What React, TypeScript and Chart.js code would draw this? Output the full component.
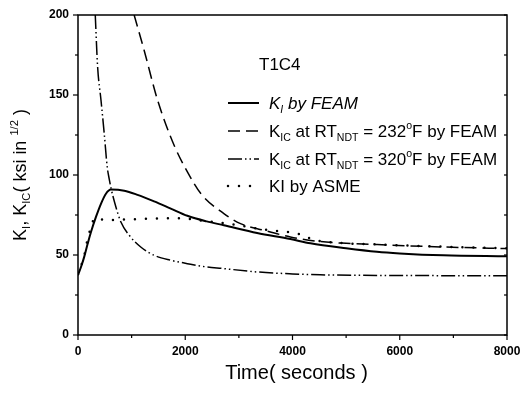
import React, { useEffect, useRef } from "react";
import { Chart, registerables } from "chart.js";

Chart.register(...registerables);

const FONT = '"Liberation Sans", Arial, sans-serif';

// K_I by FEAM (solid)
const solidT = [0, 56, 117, 180, 242, 335, 428, 521, 614, 862, 1110, 1420, 1730, 2040, 2400, 2720, 3340, 3960, 4335, 5000, 5575, 6000, 6815, 8000];
const solidK = [37.5, 42.5, 49, 57, 64.4, 73.8, 82, 88.3, 90.9, 90.2, 87.6, 83.5, 79, 74.5, 71, 68.6, 63.8, 60, 57.3, 54.2, 52, 51, 49.8, 49.2];

// K_IC at RT_NDT = 232F (dashed)
const dashT = [1047, 1233, 1482, 1800, 2040, 2290, 2720, 3030, 3470, 3960, 4460, 5000, 5575, 6815, 8000];
const dashK = [200, 178, 147, 118, 102, 88.4, 75.9, 69.6, 65.4, 61.3, 58.6, 57.3, 56.5, 55, 54];

// K_IC at RT_NDT = 320F (dash-dot-dot)
const ddT = [322, 365, 428, 489, 545, 585, 614, 707, 800, 955, 1170, 1420, 1730, 2040, 2300, 2720, 3340, 4000, 4520, 6000, 8000];
const ddK = [200, 168, 147, 126, 105, 97, 92, 80, 70.6, 62.3, 55, 49.8, 46.7, 44.6, 43, 41.5, 39.4, 38.2, 37.6, 37.2, 37];

// KI by ASME (dotted)
const asmeT = [0, 117, 167, 223, 316, 540, 1000, 1500, 1885, 2350, 2785, 3000, 3470, 3900, 4118, 4400, 5000, 5575, 6815, 8000];
const asmeK = [38, 49.8, 58.1, 65.4, 73, 71.8, 72.3, 72.8, 73, 71.3, 69.6, 68.6, 65.9, 64.4, 63.2, 59.5, 57.3, 56.6, 55.2, 54.2];

const xMajor = [0, 2000, 4000, 6000, 8000];
const yMajor = [0, 50, 100, 150, 200];

const DASH = [12, 6];
const DASHDOT = [14, 3, 1.5, 3, 1.5, 3];
const DOT = [0, 11];

type Seg = [string, "n" | "b" | "p"];

function rich(ctx: CanvasRenderingContext2D, segs: Seg[], x: number, y: number, size: number, align: "left" | "center", style = "") {
  const small = size * 0.62;
  let w = 0;
  for (const [t, m] of segs) {
    ctx.font = `${style}${m === "n" ? size : small}px ${FONT}`;
    w += ctx.measureText(t).width;
  }
  let cx = align === "center" ? x - w / 2 : x;
  ctx.textAlign = "left";
  ctx.textBaseline = "alphabetic";
  for (const [t, m] of segs) {
    ctx.font = `${style}${m === "n" ? size : small}px ${FONT}`;
    const dy = m === "b" ? size * 0.22 : m === "p" ? -size * 0.45 : 0;
    ctx.fillText(t, cx, y + dy);
    cx += ctx.measureText(t).width;
  }
}

const pts = (t: number[], k: number[]) => t.map((v, i) => ({ x: v, y: k[i] }));

const decor = {
  id: "decor",
  afterDraw(chart: any) {
    const ctx: CanvasRenderingContext2D = chart.ctx;
    const a = chart.chartArea;
    const xs = chart.scales.x;
    const ys = chart.scales.y;
    ctx.save();
    ctx.strokeStyle = "#000";
    ctx.fillStyle = "#000";
    // frame
    ctx.lineWidth = 1.5;
    ctx.setLineDash([]);
    ctx.strokeRect(a.left, a.top, a.right - a.left, a.bottom - a.top);
    // ticks
    ctx.lineWidth = 1.2;
    for (let v = 0; v <= 8000; v += 1000) {
      const px = xs.getPixelForValue(v);
      const len = v % 2000 === 0 ? 5 : 3;
      ctx.beginPath();
      ctx.moveTo(px, a.bottom);
      ctx.lineTo(px, a.bottom + len);
      ctx.stroke();
    }
    for (let v = 0; v <= 200; v += 25) {
      const py = ys.getPixelForValue(v);
      const len = v % 50 === 0 ? 5 : 3;
      ctx.beginPath();
      ctx.moveTo(a.left, py);
      ctx.lineTo(a.left - len, py);
      ctx.stroke();
      ctx.beginPath();
      ctx.moveTo(a.right, py);
      ctx.lineTo(a.right - 3, py);
      ctx.stroke();
    }
    // axis titles
    rich(ctx, [["Time( seconds )", "n"]], (a.left + a.right) / 2 + 4, 379, 20, "center");
    ctx.save();
    ctx.translate(26, (a.top + a.bottom) / 2);
    ctx.rotate(-Math.PI / 2);
    rich(ctx, [["K", "n"], ["I", "b"], [", K", "n"], ["IC", "b"], ["( ksi in ", "n"], ["1/2", "p"], [" )", "n"]], 0, 0, 18, "center");
    ctx.restore();
    // annotation + legend
    rich(ctx, [["T1C4", "n"]], 259, 70, 17, "left");
    const rows: { y: number; dash: number[]; w: number; cap: CanvasLineCap; segs: Seg[]; style: string }[] = [
      { y: 103, dash: [], w: 2, cap: "butt", style: "italic ", segs: [["K", "n"], ["I", "b"], [" by FEAM", "n"]] },
      { y: 131, dash: DASH, w: 1.5, cap: "butt", style: "", segs: [["K", "n"], ["IC", "b"], [" at RT", "n"], ["NDT", "b"], [" = 232", "n"], ["o", "p"], ["F by FEAM", "n"]] },
      { y: 159, dash: DASHDOT, w: 1.5, cap: "butt", style: "", segs: [["K", "n"], ["IC", "b"], [" at RT", "n"], ["NDT", "b"], [" = 320", "n"], ["o", "p"], ["F by FEAM", "n"]] },
      { y: 186, dash: DOT, w: 2.5, cap: "round", style: "", segs: [["KI by ASME", "n"]] },
    ];
    for (const r of rows) {
      ctx.setLineDash(r.dash);
      ctx.lineWidth = r.w;
      ctx.lineCap = r.cap;
      ctx.beginPath();
      ctx.moveTo(228, r.y);
      ctx.lineTo(259, r.y);
      ctx.stroke();
      ctx.setLineDash([]);
      ctx.lineCap = "butt";
      rich(ctx, r.segs, 269, r.y + 6, 17, "left", r.style);
    }
    ctx.restore();
  },
};

export default function App() {
  const ref = useRef<HTMLCanvasElement>(null);
  useEffect(() => {
    document.body.style.margin = "0";
    const ctx = ref.current!.getContext("2d")!;
    const line = (label: string, t: number[], k: number[], dash: number[], w: number, cap: CanvasLineCap = "butt") => ({
      label,
      data: pts(t, k),
      borderColor: "#000",
      backgroundColor: "#000",
      borderWidth: w,
      borderDash: dash,
      borderCapStyle: cap,
      pointRadius: 0,
      fill: false,
      cubicInterpolationMode: "monotone" as const,
    });
    const chart = new Chart(ctx, {
      type: "line",
      data: {
        datasets: [
          line("K_I by FEAM", solidT, solidK, [], 2),
          line("K_IC at RT_NDT = 232°F by FEAM", dashT, dashK, DASH, 1.5),
          line("K_IC at RT_NDT = 320°F by FEAM", ddT, ddK, DASHDOT, 1.5),
          line("KI by ASME", asmeT, asmeK, DOT, 2.5, "round"),
        ],
      },
      options: {
        animation: false,
        responsive: false,
        layout: { padding: { left: 0, right: 22, top: 15, bottom: 0 } },
        plugins: { legend: { display: false }, tooltip: { enabled: false } },
        scales: {
          x: {
            type: "linear",
            min: 0,
            max: 8000,
            afterFit: (s: any) => { s.height = 58; },
            border: { display: false },
            grid: { display: true, drawOnChartArea: false, drawTicks: true, tickLength: 5, tickColor: "rgba(0,0,0,0)" },
            ticks: {
              stepSize: 2000,
              autoSkip: false,
              maxRotation: 0,
              padding: 4,
              color: "#000",
              font: { family: FONT, size: 12, weight: "bold" },
              callback: (v: any) => (xMajor.includes(Number(v)) ? String(v) : ""),
            },
          },
          y: {
            type: "linear",
            min: 0,
            max: 200,
            afterFit: (s: any) => { s.width = 78; },
            border: { display: false },
            grid: { display: true, drawOnChartArea: false, drawTicks: true, tickLength: 5, tickColor: "rgba(0,0,0,0)" },
            ticks: {
              stepSize: 50,
              autoSkip: false,
              padding: 4,
              color: "#000",
              font: { family: FONT, size: 12, weight: "bold" },
              callback: (v: any) => (yMajor.includes(Number(v)) ? String(v) : ""),
            },
          },
        },
      },
      plugins: [decor],
    });
    return () => chart.destroy();
  }, []);
  return <canvas ref={ref} width={529} height={393} style={{ display: "block" }} />;
}
